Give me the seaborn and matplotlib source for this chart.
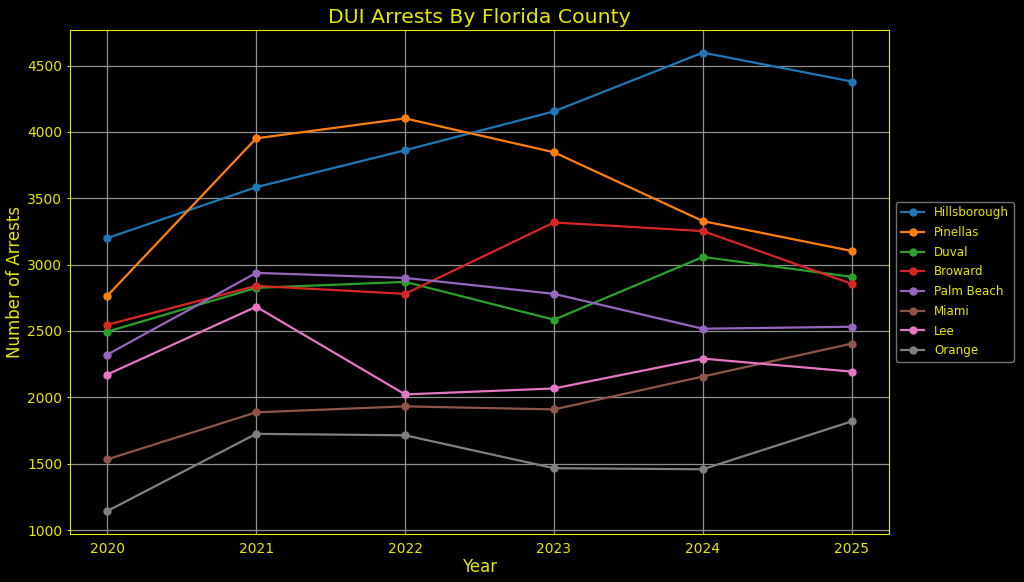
import pandas as pd
import seaborn as sns
import matplotlib.pyplot as plt

years = [2020, 2021, 2022, 2023, 2024, 2025]
counties = ['Hillsborough', 'Pinellas', 'Duval', 'Broward',
            'Palm Beach', 'Miami', 'Lee', 'Orange']

hillsborough = [3200, 3584, 3862, 4155, 4598, 4380]
pinellas = [2765, 3952, 4102, 3847, 3328, 3103]
duval = [2495, 2825, 2870, 2585, 3058, 2908]
broward = [2547, 2840, 2780, 3318, 3253, 2855]
palm_beach = [2322, 2938, 2900, 2780, 2517, 2532]
miami = [1533, 1887, 1932, 1909, 2157, 2405]
lee = [2172, 2683, 2022, 2067, 2292, 2194]
orange = [1143, 1725, 1714, 1466, 1458, 1819]

series = [hillsborough, pinellas, duval, broward, palm_beach, miami, lee, orange]
df = pd.DataFrame({
    'Year': years * len(counties),
    'County': [c for c in counties for _ in years],
    'Arrests': [v for s in series for v in s],
})

txt = '#e6e600'

fig = plt.figure(figsize=(10.24, 5.82), dpi=100, facecolor='black')
ax = fig.add_axes([0.0684, 0.0825, 0.7998, 0.8665])
ax.set_facecolor('black')

sns.lineplot(data=df, x='Year', y='Arrests', hue='County', hue_order=counties,
             palette='tab10', marker='o', markersize=6, markeredgewidth=0,
             linewidth=1.6, ax=ax)

ax.set_title('DUI Arrests By Florida County', color=txt, fontsize=14.7, pad=5)
ax.set_xlabel('Year', color=txt, fontsize=12, labelpad=2)
ax.set_ylabel('Number of Arrests', color=txt, fontsize=12, labelpad=2)
ax.set_xticks(years)
ax.tick_params(colors=txt, labelsize=10, length=2)
ax.tick_params(axis='x', color='black')
for sp in ax.spines.values():
    sp.set_color(txt)
ax.grid(True, color='#909090', linewidth=0.9)
ax.set_axisbelow(True)

leg = ax.legend(loc='center left', bbox_to_anchor=(1.001, 0.5),
                facecolor='black', edgecolor='#909090', fontsize=8.6,
                labelspacing=0.56)
for t in leg.get_texts():
    t.set_color(txt)

fig.savefig('out.png', dpi=100, facecolor='black')
